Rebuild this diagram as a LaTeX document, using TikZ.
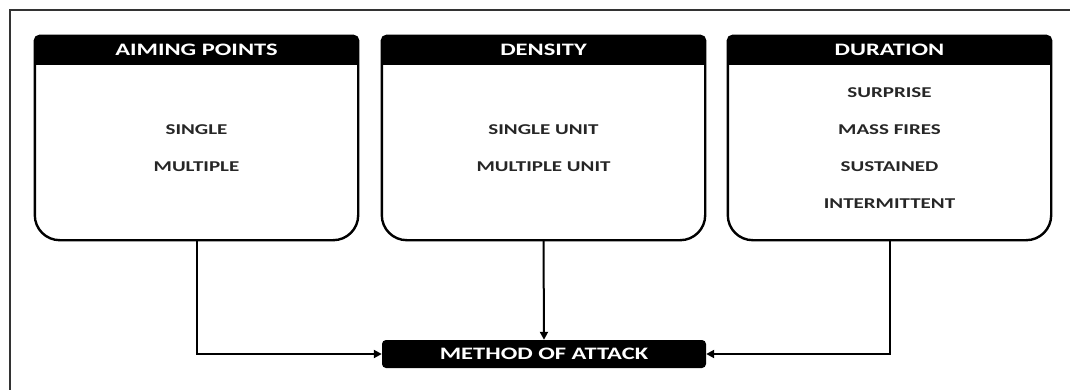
\documentclass[tikz,border=0pt]{standalone}
\usepackage{fontspec}
\newfontfamily\calib[FakeStretch=1.4]{Carlito}
\usetikzlibrary{arrows.meta}
\begin{document}
\begin{tikzpicture}[x=1pt, y=-1pt,
    panel/.style={rectangle, minimum width=323pt, minimum height=204pt, inner sep=0pt},
    title/.style={text=white, font=\calib\bfseries\fontsize{17.5}{20}\selectfont},
    items/.style={align=center, text=black!85, font=\calib\bfseries\fontsize{15}{37}\selectfont},
    method/.style={fill=black, rounded corners=4pt, minimum width=324pt, minimum height=28pt,
      inner sep=0pt, text=white, font=\calib\bfseries\fontsize{17.5}{20}\selectfont},
    outline/.style={line width=2.4pt},
    link/.style={line width=2pt, -{Triangle[length=8pt,width=8pt]}}]
  \useasboundingbox (0,0) rectangle (1070,390);
  % frame
  \draw[line width=1.6pt, black!80] (1072,10) -- (10,10) -- (10,392);
  % panels
  \node[panel] (aim) at (196.5,138) {};
  \node[panel] (dens) at (543.5,138) {};
  \node[panel] (dur) at (889.5,138) {};
  \foreach \p in {aim,dens,dur} {
    \fill (\p.north) -- ([xshift=-5pt]\p.north east) arc[start angle=90, end angle=0, radius=5pt]
      -- ([yshift=-29pt]\p.north east) -- ([yshift=-29pt]\p.north west)
      -- ([yshift=-5pt]\p.north west) arc[start angle=180, end angle=90, radius=5pt] -- cycle;
    \draw[outline] (\p.north) -- ([xshift=-5pt]\p.north east) arc[start angle=90, end angle=0, radius=5pt]
      -- ([yshift=25pt]\p.south east) arc[start angle=0, end angle=-90, radius=25pt]
      -- ([xshift=25pt]\p.south west) arc[start angle=270, end angle=180, radius=25pt]
      -- ([yshift=-5pt]\p.north west) arc[start angle=180, end angle=90, radius=5pt] -- cycle;
  }
  \node[title] (aimtitle) at ([yshift=-14.5pt]aim.north) {AIMING POINTS};
  \node[title] (denstitle) at ([yshift=-14.5pt]dens.north) {DENSITY};
  \node[title] (durtitle) at ([yshift=-14.5pt]dur.north) {DURATION};
  \node[items] (aimitems) at (196.5,148) {SINGLE\\MULTIPLE};
  \node[items] (densitems) at (543.5,148) {SINGLE UNIT\\MULTIPLE UNIT};
  \node[items] (duritems) at (889.5,148) {SURPRISE\\MASS FIRES\\SUSTAINED\\INTERMITTENT};
  % result
  \node[method] (moa) at (544,354) {METHOD OF ATTACK};
  \draw[link] (aim.south) |- (moa.west);
  \draw[link] (dens.south) -- (moa.north);
  \draw[link] (dur.south) |- (moa.east);
\end{tikzpicture}
\end{document}
